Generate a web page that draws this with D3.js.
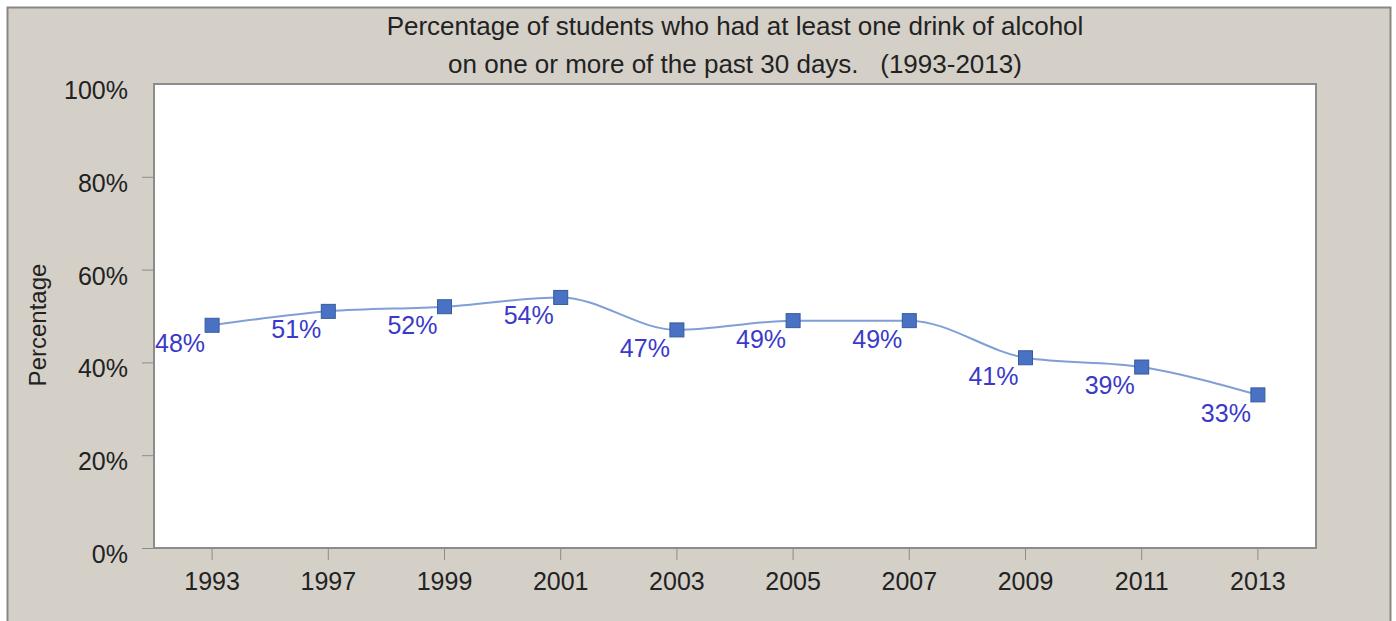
<!DOCTYPE html>
<html>
<head>
<meta charset="utf-8">
<script src="https://cdn.jsdelivr.net/npm/d3@7"></script>
<style>
  body { margin: 0; background: #ffffff; }
  svg text { font-family: 'Liberation Sans', Arial, sans-serif; }
</style>
</head>
<body>
<svg id="chart"></svg>
<script>
// Data
var years = ['1993', '1997', '1999', '2001', '2003', '2005', '2007', '2009', '2011', '2013'];
var percents = [48, 51, 52, 54, 47, 49, 49, 41, 39, 33];
var yTicks = [0, 20, 40, 60, 80, 100];
var titleLines = [
  'Percentage of students who had at least one drink of alcohol',
  'on one or more of the past 30 days.   (1993-2013)'
];

// Canvas size
var canvasWidth = 1396;
var canvasHeight = 621;

// Plot area
var margin = {
  top: 84,
  right: 80,
  bottom: 73,
  left: 154
};

var svg = d3.select('#chart')
  .attr('width', canvasWidth)
  .attr('height', canvasHeight);

// Grey panel with a frame
svg.append('rect')
  .attr('x', 7.5)
  .attr('y', 7.5)
  .attr('width', 1383)
  .attr('height', 620)
  .attr('fill', '#d4d0c8')
  .attr('stroke', '#8a8782')
  .attr('stroke-width', 2);

var plotW = canvasWidth - margin.left - margin.right;
var plotH = canvasHeight - margin.top - margin.bottom;

svg.append('rect')
  .attr('x', margin.left)
  .attr('y', margin.top)
  .attr('width', plotW)
  .attr('height', plotH)
  .attr('fill', '#ffffff')
  .attr('stroke', '#8c8c8c')
  .attr('stroke-width', 2);

// Scales
var xScale = d3.scaleBand()
  .domain(years)
  .range([margin.left, margin.left + plotW])
  .padding(0);

var yScale = d3.scaleLinear()
  .domain([0, 100])
  .range([margin.top + plotH, margin.top]);

function xPos(d) {
  return xScale(d) + xScale.bandwidth() / 2;
}

// Axes
var xAxis = d3.axisBottom(xScale)
  .tickSize(12)
  .tickPadding(6);

var yAxis = d3.axisLeft(yScale)
  .tickValues(yTicks)
  .tickSize(12)
  .tickPadding(14)
  .tickFormat(function(d) { return d + '%'; });

var gx = svg.append('g')
  .attr('class', 'x-axis')
  .attr('transform', 'translate(0,' + (margin.top + plotH) + ')')
  .call(xAxis);

var gy = svg.append('g')
  .attr('class', 'y-axis')
  .attr('transform', 'translate(' + margin.left + ',0)')
  .call(yAxis);

[gx, gy].forEach(function(g) {
  g.select('.domain').remove();
  g.selectAll('.tick line').attr('stroke', '#8c8c8c');
  g.selectAll('.tick text')
    .attr('fill', '#222')
    .style('font-size', '25px');
});
gy.selectAll('.tick text').attr('dy', '0.58em');
gy.selectAll('.tick').filter(function(d) { return d === 100; }).select('line').remove();
gx.selectAll('.tick text').attr('dy', '0.95em');

// Axis label
svg.append('text')
  .attr('x', -325)
  .attr('y', 46)
  .attr('text-anchor', 'middle')
  .attr('transform', 'rotate(-90)')
  .attr('fill', '#222')
  .style('font-size', '24px')
  .text('Percentage');

// Title
svg.append('g')
  .selectAll('text')
  .data(titleLines)
  .enter()
  .append('text')
  .attr('x', margin.left + plotW / 2)
  .attr('y', function(d, i) { return 35 + i * 38; })
  .attr('text-anchor', 'middle')
  .attr('fill', '#222')
  .style('font-size', '26px')
  .style('white-space', 'pre')
  .text(function(d) { return d; });

// Line
var points = years.map(function(y, i) {
  return { year: y, value: percents[i] };
});

var line = d3.line()
  .x(function(d) { return xPos(d.year); })
  .y(function(d) { return yScale(d.value); })
  .curve(d3.curveMonotoneX);

svg.append('path')
  .datum(points)
  .attr('fill', 'none')
  .attr('stroke', '#7f9fd6')
  .attr('stroke-width', 2)
  .attr('d', line);

// Markers
var markerSize = 14;
svg.append('g')
  .selectAll('rect')
  .data(points)
  .enter()
  .append('rect')
  .attr('x', function(d) { return xPos(d.year) - markerSize / 2; })
  .attr('y', function(d) { return yScale(d.value) - markerSize / 2; })
  .attr('width', markerSize)
  .attr('height', markerSize)
  .attr('fill', '#4a72c4')
  .attr('stroke', '#355a9e')
  .attr('stroke-width', 1);

// Value labels
svg.append('g')
  .selectAll('text')
  .data(points)
  .enter()
  .append('text')
  .attr('x', function(d) { return xPos(d.year) - 7; })
  .attr('y', function(d) { return yScale(d.value) + 27; })
  .attr('text-anchor', 'end')
  .attr('fill', '#3a3ac8')
  .style('font-size', '25px')
  .text(function(d) { return d.value + '%'; });
</script>
</body>
</html>
